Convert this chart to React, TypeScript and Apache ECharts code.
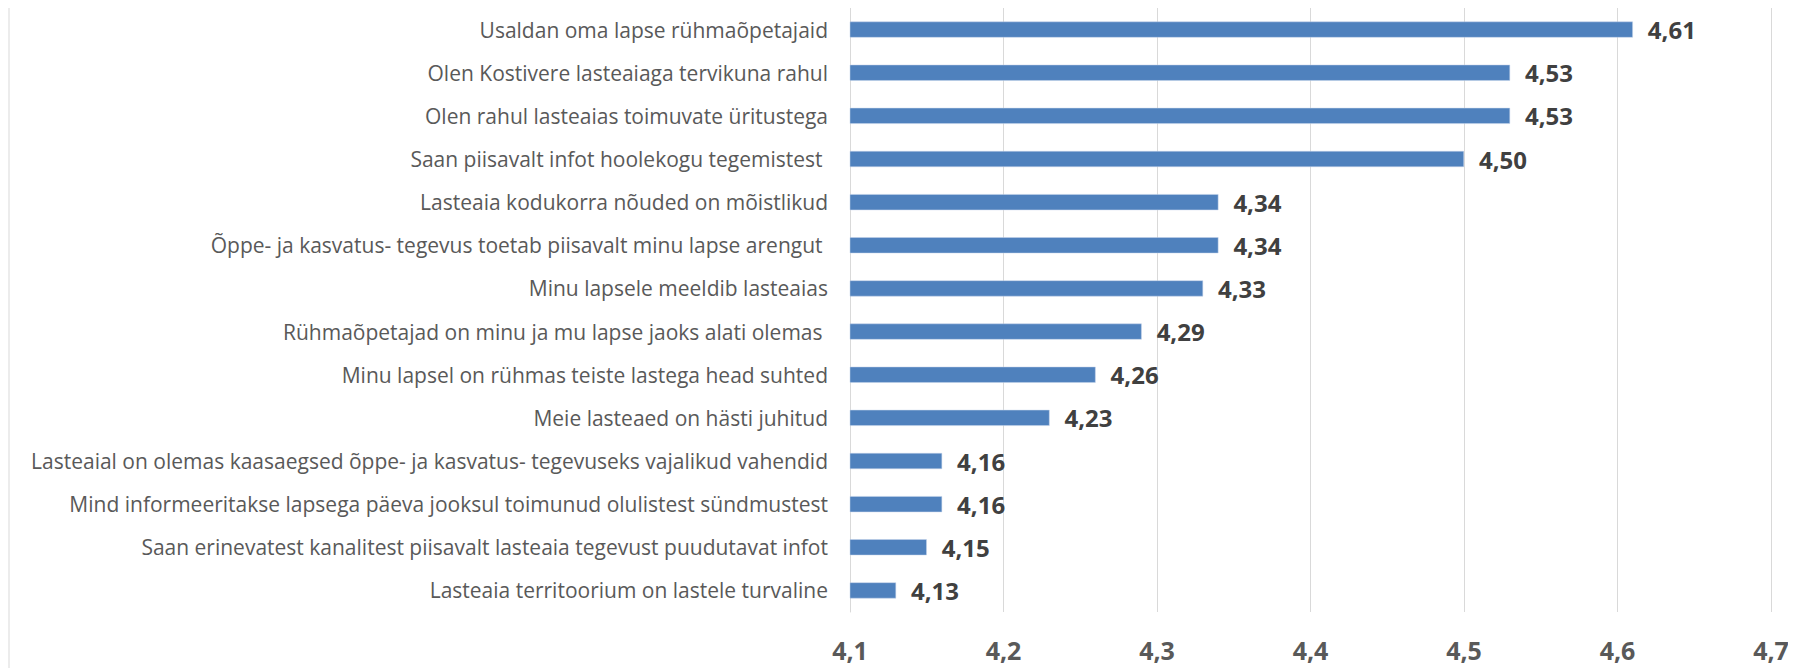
import React, { useEffect, useRef } from "react";
import * as echarts from "echarts";

const categories = [
  "Usaldan oma lapse rühmaõpetajaid",
  "Olen Kostivere lasteaiaga tervikuna rahul",
  "Olen rahul lasteaias toimuvate üritustega",
  "Saan piisavalt infot hoolekogu tegemistest ",
  "Lasteaia kodukorra nõuded on mõistlikud",
  "Õppe- ja kasvatus- tegevus toetab piisavalt minu lapse arengut ",
  "Minu lapsele meeldib lasteaias",
  "Rühmaõpetajad on minu ja mu lapse jaoks alati olemas ",
  "Minu lapsel on rühmas teiste lastega head suhted",
  "Meie lasteaed on hästi juhitud",
  "Lasteaial on olemas kaasaegsed õppe- ja kasvatus- tegevuseks vajalikud vahendid",
  "Mind informeeritakse lapsega päeva jooksul toimunud olulistest sündmustest",
  "Saan erinevatest kanalitest piisavalt lasteaia tegevust puudutavat infot",
  "Lasteaia territoorium on lastele turvaline",
];
const values = [4.61, 4.53, 4.53, 4.5, 4.34, 4.34, 4.33, 4.29, 4.26, 4.23, 4.16, 4.16, 4.15, 4.13];
const axisMin = 4.1;
const axisMax = 4.7;
const axisStep = 0.1;

const FONT = "'Open Sans', sans-serif";

export default function App() {
  const ref = useRef<HTMLDivElement>(null);
  useEffect(() => {
    if (!ref.current) return;
    const chart = echarts.init(ref.current, undefined, { renderer: "svg" });
    chart.setOption({
      animation: false,
      backgroundColor: "#ffffff",
      grid: { left: 850, right: 25, top: 8, bottom: 56, containLabel: false },
      graphic: [
        {
          type: "line",
          shape: { x1: 9, y1: 0, x2: 9, y2: 668 },
          style: { stroke: "#d9d9d9", lineWidth: 1 },
        },
      ],
      xAxis: {
        type: "value",
        min: axisMin,
        max: axisMax,
        interval: axisStep,
        axisLine: { show: false },
        axisTick: { show: false },
        splitLine: { show: true, lineStyle: { color: "#d9d9d9", width: 1 } },
        axisLabel: {
          fontFamily: FONT,
          fontSize: 25,
          fontWeight: "bold",
          color: "#595959",
          margin: 24,
          lineHeight: 28,
          formatter: (v: number) => v.toFixed(1).replace(".", ","),
        },
      },
      yAxis: {
        type: "category",
        inverse: true,
        data: categories,
        axisLine: { show: true, lineStyle: { color: "#d9d9d9" } },
        axisTick: { show: false },
        axisLabel: {
          fontFamily: FONT,
          fontSize: 21,
          color: "#595959",
          margin: 22,
        },
      },
      series: [
        {
          type: "bar",
          data: values,
          barWidth: 16,
          itemStyle: { color: "#4f81bd", borderColor: "#c6d4ea", borderWidth: 0.5 },
          label: {
            show: true,
            position: "right",
            distance: 15,
            fontFamily: FONT,
            fontSize: 24,
            fontWeight: "bold",
            color: "#404040",
            formatter: (p: any) => p.value.toFixed(2).replace(".", ","),
          },
        },
      ],
    });
    return () => chart.dispose();
  }, []);
  return <div ref={ref} style={{ width: 1796, height: 668, marginLeft: -8, marginTop: -8 }} />;
}
